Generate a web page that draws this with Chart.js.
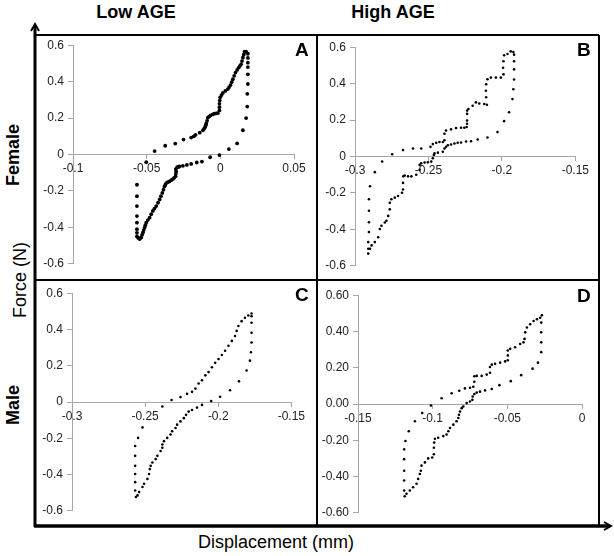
<!DOCTYPE html>
<html>
<head>
<meta charset="utf-8">
<script src="https://cdn.jsdelivr.net/npm/chart.js@4.4.0/dist/chart.umd.min.js"></script>
<style>
  body { margin: 0; background: #fff; }
  #wrap { position: relative; width: 614px; height: 556px; font-family: 'Liberation Sans', Arial, sans-serif; color: #000; }
  svg { position: absolute; left: 0; top: 0; }
  canvas { position: absolute; }
  .lbl { position: absolute; white-space: nowrap; transform: translate(-50%, -50%); line-height: 1; }
  .rot { transform: translate(-50%, -50%) rotate(-90deg); }
  .bold { font-weight: bold; font-size: 18px; }
  .name { font-size: 18px; }
  .letter { position: absolute; font-weight: bold; font-size: 19px; line-height: 1; }
</style>
</head>
<body>
<div id="wrap">
  <svg width="614" height="556">
    <g stroke="#000" fill="none">
      <line x1="35" y1="35" x2="599" y2="35" stroke-width="2"/>
      <line x1="599" y1="35" x2="599" y2="526" stroke-width="2"/>
      <line x1="35" y1="280" x2="599" y2="280" stroke-width="2"/>
      <line x1="317" y1="35" x2="317" y2="526" stroke-width="2"/>
      <line x1="35" y1="527" x2="35" y2="25" stroke-width="3"/>
      <polyline points="31,31 35,24 39,31" stroke-width="2"/>
      <line x1="34" y1="526" x2="610" y2="526" stroke-width="3.5"/>
      <polyline points="604,522 611,526 604,530" stroke-width="2"/>
    </g>
  </svg>
  <canvas id="chartA"></canvas>
  <canvas id="chartB"></canvas>
  <canvas id="chartC"></canvas>
  <canvas id="chartD"></canvas>

  <div class="lbl bold" style="left:136px; top:12px;">Low AGE</div>
  <div class="lbl bold" style="left:393px; top:12px;">High AGE</div>
  <div class="lbl bold rot" style="left:13px; top:155px;">Female</div>
  <div class="lbl bold rot" style="left:13px; top:405px;">Male</div>
  <div class="lbl name rot" style="left:20px; top:280px;">Force (N)</div>
  <div class="lbl name" style="left:276px; top:542px;">Displacement (mm)</div>

  <div class="letter" style="left:295px; top:40px;">A</div>
  <div class="letter" style="left:577px; top:40px;">B</div>
  <div class="letter" style="left:295px; top:285px;">C</div>
  <div class="letter" style="left:577px; top:286px;">D</div>
</div>

<script>
// Panel A: Female, Low AGE
const xA = [-0.0503,-0.0446,-0.0374,-0.0306,-0.025,-0.0198,-0.0168,-0.014,-0.0118,-0.0103,-0.0096,-0.0085,-0.0067,-0.004,-0.0017,-0.0006,-0.0006,-0.0001,0.0017,0.0051,0.0069,0.0085,0.0103,0.0125,0.0141,0.0153,0.0164,0.0175,0.0187,0.0187,0.0187,0.0187,0.0187,0.0187,0.0183,0.0183,0.0175,0.0153,0.0114,0.0058,-0.0006,-0.0069,-0.0125,-0.016,-0.0198,-0.0227,-0.0254,-0.0277,-0.0293,-0.030,-0.0304,-0.0322,-0.0345,-0.0367,-0.0379,-0.0394,-0.0412,-0.0435,-0.0458,-0.048,-0.0503,-0.0514,-0.0525,-0.0537,-0.0548,-0.0566,-0.0566,-0.0566,-0.0566,-0.0566,-0.0566,-0.0566,
  -0.018,-0.011,-0.0099,-0.009,-0.0076,-0.0052,-0.0028,-0.0006,-0.0004,0.0008,0.0034,0.006,0.0077,0.0094,0.0114,0.0133,0.0147,0.0159,
  -0.0285,-0.0302,-0.0302,-0.0313,-0.0333,-0.0356,-0.0373,-0.0386,-0.0403,-0.0423,-0.0447,-0.0469,-0.0492,-0.0509,-0.052,-0.0531,-0.0543,-0.0557,-0.0566];
const yA = [-0.0425,0.019,0.048,0.060,0.082,0.093,0.108,0.120,0.133,0.151,0.169,0.202,0.214,0.224,0.227,0.242,0.278,0.314,0.338,0.359,0.381,0.413,0.450,0.477,0.495,0.531,0.564,0.564,0.553,0.530,0.504,0.480,0.440,0.387,0.333,0.263,0.200,0.133,0.061,0.030,-0.003,-0.015,-0.039,-0.044,-0.052,-0.057,-0.062,-0.066,-0.070,-0.093,-0.120,-0.135,-0.147,-0.157,-0.175,-0.211,-0.247,-0.283,-0.310,-0.347,-0.374,-0.401,-0.428,-0.455,-0.464,-0.450,-0.410,-0.374,-0.338,-0.283,-0.229,-0.166,
  0.100,0.142,0.160,0.185,0.208,0.220,0.226,0.260,0.296,0.326,0.349,0.370,0.397,0.432,0.464,0.486,0.513,0.548,
  -0.068,-0.080,-0.106,-0.128,-0.141,-0.152,-0.166,-0.193,-0.229,-0.265,-0.297,-0.328,-0.360,-0.388,-0.415,-0.441,-0.460,-0.458,-0.430];

// Panel B: Female, High AGE
const xB = [-0.291,-0.2898,-0.2887,-0.2865,-0.2842,-0.2831,-0.282,-0.2797,-0.2786,-0.2774,-0.2763,-0.2763,-0.2752,-0.2729,-0.2707,-0.268,-0.2673,-0.2673,-0.2671,-0.2662,-0.2639,-0.2616,-0.2583,-0.256,-0.256,-0.2549,-0.2526,-0.2504,-0.2481,-0.247,-0.2463,-0.2459,-0.2436,-0.2402,-0.2391,-0.238,-0.2368,-0.2346,-0.2323,-0.2301,-0.2278,-0.2244,-0.221,-0.2165,-0.2098,-0.203,-0.1985,-0.1951,-0.1928,-0.1922,-0.1917,-0.1917,-0.1917,-0.1917,-0.1922,
  -0.194,-0.1962,-0.1985,-0.1989,-0.1992,-0.1989,-0.2007,-0.2041,-0.2075,-0.2098,-0.2107,-0.2109,-0.2107,-0.2102,-0.212,-0.2154,-0.2177,-0.2199,-0.2228,-0.2237,-0.2237,-0.2237,-0.2237,-0.224,-0.2256,-0.2278,-0.2312,-0.2346,-0.238,-0.2391,-0.2391,-0.2402,-0.2425,-0.2447,-0.247,-0.2486,
  -0.2549,-0.2605,-0.2673,-0.2747,-0.2815,-0.2865,-0.2898,-0.2905,-0.2905,-0.2905,-0.2905,-0.291,-0.291];
const yB = [-0.533,-0.506,-0.488,-0.47,-0.443,-0.398,-0.38,-0.362,-0.353,-0.326,-0.29,-0.254,-0.235,-0.226,-0.217,-0.199,-0.181,-0.145,-0.109,-0.104,-0.109,-0.109,-0.1,-0.073,-0.046,-0.037,-0.033,-0.032,-0.028,-0.01,0.008,0.017,0.021,0.026,0.044,0.053,0.062,0.066,0.071,0.075,0.077,0.082,0.084,0.093,0.104,0.134,0.194,0.243,0.315,0.369,0.423,0.478,0.523,0.559,0.573,
  0.577,0.563,0.556,0.523,0.487,0.451,0.433,0.433,0.433,0.424,0.397,0.361,0.325,0.284,0.288,0.291,0.297,0.279,0.261,0.252,0.234,0.198,0.18,0.162,0.158,0.158,0.156,0.149,0.143,0.125,0.089,0.08,0.08,0.075,0.068,0.053,
  0.044,0.044,0.035,0.012,-0.028,-0.086,-0.163,-0.235,-0.298,-0.361,-0.415,-0.47,-0.506];

// Panel C: Male, Low AGE
const xC = [-0.1772,-0.1772,-0.1772,-0.1772,-0.1772,-0.1776,-0.1783,-0.1806,-0.1858,-0.1919,-0.1987,-0.2048,-0.2111,-0.2145,
  -0.2179,-0.2202,-0.222,-0.2235,-0.2258,-0.2281,-0.2292,-0.2315,-0.2326,-0.2349,-0.2371,-0.2382,-0.2382,-0.2394,-0.2416,-0.2428,-0.245,-0.2462,-0.2468,-0.2473,-0.2484,-0.2507,-0.2518,-0.2541,-0.2552,-0.2563,
  -0.2568,-0.2568,-0.2568,-0.2568,-0.2568,-0.2568,-0.2548,-0.2518,-0.2382,-0.2319,-0.2258,-0.2213,-0.2179,
  -0.2156,-0.2134,-0.2111,-0.2088,-0.2066,-0.2043,-0.2021,-0.1998,-0.1975,-0.1953,-0.193,-0.1907,-0.1885,-0.1874,-0.1862,-0.184,-0.1817,-0.1794];
const yC = [0.488,0.473,0.437,0.382,0.328,0.274,0.228,0.174,0.114,0.065,0.029,0.005,-0.016,-0.031,
  -0.044,-0.053,-0.071,-0.089,-0.107,-0.125,-0.143,-0.161,-0.179,-0.198,-0.216,-0.234,-0.252,-0.27,-0.297,-0.315,-0.334,-0.352,-0.37,-0.397,-0.424,-0.451,-0.469,-0.497,-0.515,-0.524,
  -0.488,-0.442,-0.397,-0.352,-0.297,-0.243,-0.198,-0.14,-0.025,0.011,0.027,0.045,0.056,
  0.074,0.102,0.12,0.147,0.165,0.192,0.216,0.237,0.259,0.283,0.31,0.337,0.364,0.392,0.419,0.446,0.464,0.477];

// Panel D: Male, High AGE
const xD = [-0.0269,-0.0273,-0.0273,-0.0273,-0.0273,-0.0295,-0.0331,-0.0407,-0.0477,-0.0553,
  -0.0604,-0.0649,-0.0683,-0.0705,-0.0721,-0.0732,-0.0734,-0.075,-0.0772,-0.0795,-0.0806,-0.0817,-0.0824,-0.0828,-0.084,-0.0862,-0.0884,-0.0895,-0.0907,-0.0929,-0.0963,-0.0985,-0.099,-0.0992,-0.0992,-0.1003,-0.103,-0.1052,-0.1075,-0.1079,-0.1086,-0.1097,-0.1108,-0.1131,-0.1153,-0.1175,-0.1187,
  -0.1191,-0.1191,-0.1191,-0.1191,-0.1191,-0.1182,-0.116,-0.1119,-0.107,-0.1012,-0.094,-0.0873,
  -0.0822,-0.0784,-0.075,-0.0728,-0.0721,-0.0721,-0.0705,-0.0672,-0.0638,-0.0616,-0.0616,-0.0604,-0.0582,-0.0548,-0.0515,-0.0497,-0.0497,-0.0497,-0.0481,-0.0448,-0.0414,-0.0392,-0.0385,-0.038,-0.0369,-0.0347,-0.0324,-0.0302,-0.028];
const yD = [0.489,0.449,0.395,0.34,0.286,0.228,0.195,0.159,0.126,0.104,
  0.083,0.075,0.068,0.063,0.055,0.041,0.023,0.014,0.005,-0.014,-0.023,-0.041,-0.059,-0.077,-0.095,-0.114,-0.132,-0.15,-0.168,-0.177,-0.186,-0.192,-0.213,-0.241,-0.277,-0.295,-0.3,-0.322,-0.34,-0.368,-0.386,-0.413,-0.44,-0.459,-0.477,-0.495,-0.509,
  -0.477,-0.422,-0.368,-0.304,-0.25,-0.204,-0.15,-0.095,-0.05,-0.008,0.032,0.059,
  0.073,0.086,0.09,0.095,0.123,0.153,0.155,0.155,0.162,0.172,0.204,0.217,0.222,0.228,0.235,0.241,0.268,0.295,0.304,0.313,0.331,0.34,0.359,0.395,0.422,0.44,0.458,0.467,0.476];

// ticks
const yTicks = [-0.6, -0.4, -0.2, 0, 0.2, 0.4, 0.6];
const yLabels1 = ['-0.6', '-0.4', '-0.2', '0', '0.2', '0.4', '0.6'];
const yLabels2 = ['-0.60', '-0.40', '-0.20', '0.00', '0.20', '0.40', '0.60'];
const xTicksA = [-0.1, -0.05, 0, 0.05];
const xLabelsA = ['-0.1', '-0.05', '0', '0.05'];
const xTicksBC = [-0.3, -0.25, -0.2, -0.15];
const xLabelsBC = ['-0.3', '-0.25', '-0.2', '-0.15'];
const xTicksD = [-0.15, -0.1, -0.05, 0];
const xLabelsD = ['-0.15', '-0.1', '-0.05', '0'];

const tickFont = { family: "'Liberation Sans', Arial, sans-serif", size: 12 };
const axisGray = '#a6a6a6';

function makePanel(id, box, xs, ys, xTicks, xLabels, yLabels, r) {
  const canvas = document.getElementById(id);
  canvas.width = box.w;
  canvas.height = box.h;
  canvas.style.left = box.l + 'px';
  canvas.style.top = box.t + 'px';

  new Chart(canvas, {
    type: 'scatter',
    data: {
      datasets: [{
        data: xs.map((x, i) => ({ x: x, y: ys[i] })),
        pointRadius: r,
        pointHoverRadius: r,
        pointBorderWidth: 0,
        pointBackgroundColor: '#000'
      }]
    },
    options: {
      responsive: false,
      animation: false,
      events: [],
      layout: { padding: { left: 0, right: 15, top: 10, bottom: 10 } },
      plugins: { legend: { display: false }, tooltip: { enabled: false } },
      scales: {
        x: {
          type: 'linear',
          position: { y: 0 },
          min: xTicks[0],
          max: xTicks[xTicks.length - 1],
          afterBuildTicks: s => { s.ticks = xTicks.map(v => ({ value: v })); },
          ticks: { callback: (v, i) => xLabels[i], font: tickFont, color: '#222', maxRotation: 0, autoSkip: false, padding: 3 },
          grid: { drawOnChartArea: false, tickLength: 4, color: axisGray },
          border: { color: axisGray }
        },
        y: {
          min: -0.6,
          max: 0.6,
          afterBuildTicks: s => { s.ticks = yTicks.map(v => ({ value: v })); },
          afterFit: s => { s.width = 40; },
          ticks: { callback: (v, i) => yLabels[i], font: tickFont, color: '#222', padding: 4 },
          grid: { drawOnChartArea: false, tickLength: 5, color: axisGray },
          border: { color: axisGray }
        }
      }
    }
  });
}

makePanel('chartA', { l: 33, t: 34, w: 276, h: 241 }, xA, yA, xTicksA, xLabelsA, yLabels1, 1.9);
makePanel('chartB', { l: 315, t: 36, w: 277, h: 241 }, xB, yB, xTicksBC, xLabelsBC, yLabels1, 1.3);
makePanel('chartC', { l: 32, t: 282, w: 276, h: 240 }, xC, yC, xTicksBC, xLabelsBC, yLabels1, 1.3);
makePanel('chartD', { l: 318, t: 284, w: 279, h: 240 }, xD, yD, xTicksD, xLabelsD, yLabels2, 1.3);
</script>
</body>
</html>
